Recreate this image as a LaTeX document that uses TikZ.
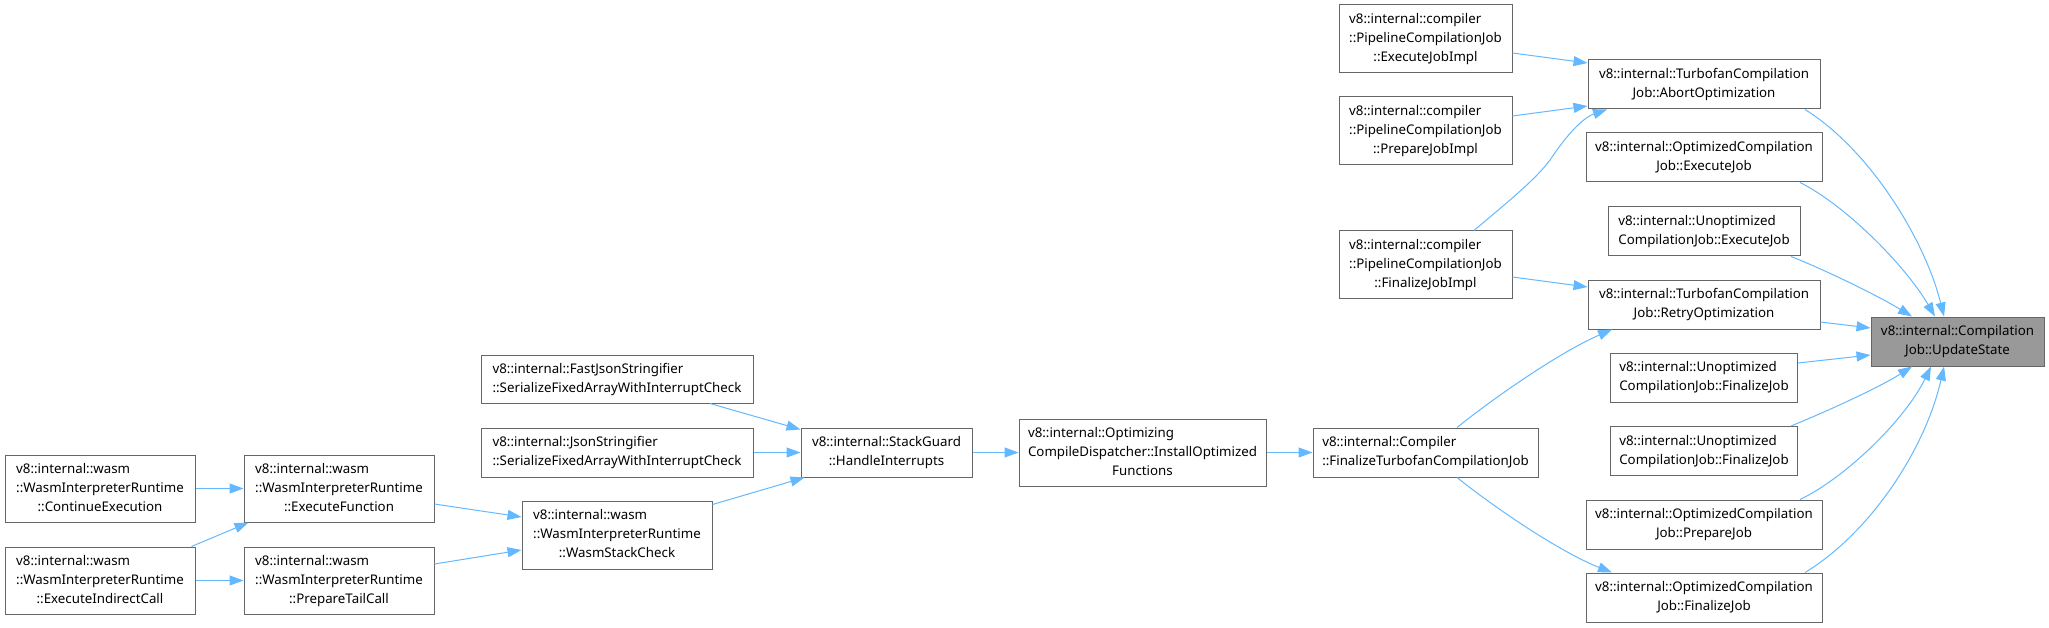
\documentclass[tikz,border=0pt]{standalone}
\usepackage{fontspec}
\setmainfont{Noto Sans}
\usepackage{xcolor}
\usepackage{tikz}
\usetikzlibrary{arrows.meta}

\definecolor{edgeblue}{HTML}{63B8FF}
\definecolor{boxgray}{HTML}{666666}
\definecolor{hlgray}{HTML}{999999}

% all lines left, last line centred
\newcommand{\fnlines}[2]{\begin{tabular}{@{}l@{}}#1\\\multicolumn{1}{@{}c@{}}{#2}\end{tabular}}

\begin{document}
\begin{tikzpicture}[x=1pt, y=-1pt,
		fn/.style={draw=boxgray, fill=white, line width=1pt, inner sep=0pt,
			minimum height=49pt, font=\fontsize{13.3}{19}\selectfont},
		fnhigh/.style={fn, fill=hlgray},
		call/.style={draw=edgeblue, line width=1pt, -{Triangle[length=14pt,width=10pt]}}]
		\useasboundingbox (0,0) rectangle (2049,628);
		
		% right column
		\node[fnhigh, minimum width=173pt] (updState) at (1957.5, 341.5) {\fnlines{v8::internal::Compilation}{Job::UpdateState}};
		
		\node[fn, minimum width=232pt] (abortOpt) at (1704, 84.5) {\fnlines{v8::internal::TurbofanCompilation}{Job::AbortOptimization}};
		\node[fn, minimum width=236pt] (optExec) at (1704, 157.5) {\fnlines{v8::internal::OptimizedCompilation}{Job::ExecuteJob}};
		\node[fn, minimum width=192pt] (unoptExec) at (1704, 231.5) {\fnlines{v8::internal::Unoptimized}{CompilationJob::ExecuteJob}};
		\node[fn, minimum width=232pt] (retryOpt) at (1704, 304.5) {\fnlines{v8::internal::TurbofanCompilation}{Job::RetryOptimization}};
		\node[fn, minimum width=187pt] (unoptFinA) at (1704, 377.5) {\fnlines{v8::internal::Unoptimized}{CompilationJob::FinalizeJob}};
		\node[fn, minimum width=187pt] (unoptFinB) at (1704, 451) {\fnlines{v8::internal::Unoptimized}{CompilationJob::FinalizeJob}};
		\node[fn, minimum width=236pt] (optPrep) at (1704, 524.5) {\fnlines{v8::internal::OptimizedCompilation}{Job::PrepareJob}};
		\node[fn, minimum width=236pt] (optFin) at (1704, 597.5) {\fnlines{v8::internal::OptimizedCompilation}{Job::FinalizeJob}};
		
		\node[fn, minimum width=173pt, minimum height=68pt] (execImpl) at (1425.5, 39) {\fnlines{v8::internal::compiler\\::PipelineCompilationJob}{::ExecuteJobImpl}};
		\node[fn, minimum width=173pt, minimum height=68pt] (prepImpl) at (1425.5, 131) {\fnlines{v8::internal::compiler\\::PipelineCompilationJob}{::PrepareJobImpl}};
		\node[fn, minimum width=173pt, minimum height=67pt] (finImpl) at (1425.5, 264.5) {\fnlines{v8::internal::compiler\\::PipelineCompilationJob}{::FinalizeJobImpl}};
		\node[fn, minimum width=225pt] (finTurbo) at (1425.5, 452.5) {\fnlines{v8::internal::Compiler}{::FinalizeTurbofanCompilationJob}};
		
		% middle and left
		\node[fn, minimum width=247pt, minimum height=67pt] (install) at (1142.5, 452.5) {\fnlines{v8::internal::Optimizing\\CompileDispatcher::InstallOptimized}{Functions}};
		\node[fn, minimum width=171pt] (stackGuard) at (886.5, 452.5) {\fnlines{v8::internal::StackGuard}{::HandleInterrupts}};
		\node[fn, minimum width=272pt, minimum height=48pt] (fastJson) at (617, 379) {\fnlines{v8::internal::FastJsonStringifier}{::SerializeFixedArrayWithInterruptCheck}};
		\node[fn, minimum width=272pt] (jsonStr) at (617, 452.5) {\fnlines{v8::internal::JsonStringifier}{::SerializeFixedArrayWithInterruptCheck}};
		\node[fn, minimum width=190pt, minimum height=68pt] (wasmStack) at (617, 535) {\fnlines{v8::internal::wasm\\::WasmInterpreterRuntime}{::WasmStackCheck}};
		\node[fn, minimum width=190pt, minimum height=67pt] (execFunc) at (339, 488.5) {\fnlines{v8::internal::wasm\\::WasmInterpreterRuntime}{::ExecuteFunction}};
		\node[fn, minimum width=190pt, minimum height=67pt] (prepTail) at (339, 580.5) {\fnlines{v8::internal::wasm\\::WasmInterpreterRuntime}{::PrepareTailCall}};
		\node[fn, minimum width=190pt, minimum height=67pt] (contExec) at (100, 488.5) {\fnlines{v8::internal::wasm\\::WasmInterpreterRuntime}{::ContinueExecution}};
		\node[fn, minimum width=190pt, minimum height=67pt] (execIndirect) at (100, 580.5) {\fnlines{v8::internal::wasm\\::WasmInterpreterRuntime}{::ExecuteIndirectCall}};
		
		% calls into UpdateState
		\draw[call] ([xshift=101pt]abortOpt.south) .. controls (1870,150) and (1925,240) .. ([xshift=-13.5pt]updState.north);
		\draw[call] ([xshift=96pt]optExec.south) .. controls (1845,205) and (1905,265) .. ([xshift=-22.5pt]updState.north);
		\draw[call] ([xshift=87pt]unoptExec.south) .. controls (1830,272) and (1880,297) .. ([xshift=-45.5pt]updState.north);
		\draw[call] ([yshift=-17.5pt]retryOpt.east) -- ([yshift=13.5pt]updState.west);
		\draw[call] ([yshift=14.5pt]unoptFinA.east) -- ([yshift=-13.5pt]updState.west);
		\draw[call] ([xshift=87pt]unoptFinB.north) .. controls (1830,410) and (1880,387) .. ([xshift=-45.5pt]updState.south);
		\draw[call] ([xshift=96pt]optPrep.north) .. controls (1845,478) and (1905,420) .. ([xshift=-26.5pt]updState.south);
		\draw[call] ([xshift=101pt]optFin.north) .. controls (1870,533) and (1925,450) .. ([xshift=-13.5pt]updState.south);
		
		% pipeline jobs
		\draw[call] ([yshift=-14pt]execImpl.east) -- ([yshift=21.5pt]abortOpt.west);
		\draw[call] ([yshift=15pt]prepImpl.east) -- ([yshift=-21.5pt]abortOpt.west);
		\draw[call] ([xshift=48.5pt]finImpl.north) .. controls (1510,200) and (1535,180) .. (1550,160) .. controls (1570,130) and (1585,117) .. ([xshift=-97pt]abortOpt.south);
		\draw[call] ([yshift=-12.5pt]finImpl.east) -- ([yshift=17.5pt]retryOpt.west);
		\draw[call] ([xshift=31.5pt]finTurbo.north) .. controls (1495,397) and (1560,352) .. ([xshift=-92pt]retryOpt.south);
		\draw[call] ([xshift=31.5pt]finTurbo.south) .. controls (1495,508) and (1560,552) .. ([xshift=-92pt]optFin.north);
		
		% left part
		\draw[call] (install) -- (finTurbo);
		\draw[call] (stackGuard) -- (install);
		\draw[call] ([xshift=93pt]fastJson.south) -- ([yshift=-2pt]stackGuard.north west);
		\draw[call] (jsonStr) -- (stackGuard);
		\draw[call] ([yshift=-4pt]wasmStack.north east) -- ([xshift=4pt]stackGuard.south west);
		\draw[call] ([yshift=-15.5pt]execFunc.east) -- ([yshift=18pt]wasmStack.west);
		\draw[call] ([yshift=16.5pt]prepTail.east) -- ([yshift=-15pt]wasmStack.west);
		\draw[call] (contExec) -- (execFunc);
		\draw[call] ([xshift=-4pt]execIndirect.north east) -- ([xshift=5pt]execFunc.south west);
		\draw[call] (execIndirect) -- (prepTail);
		
\end{tikzpicture}
\end{document}
